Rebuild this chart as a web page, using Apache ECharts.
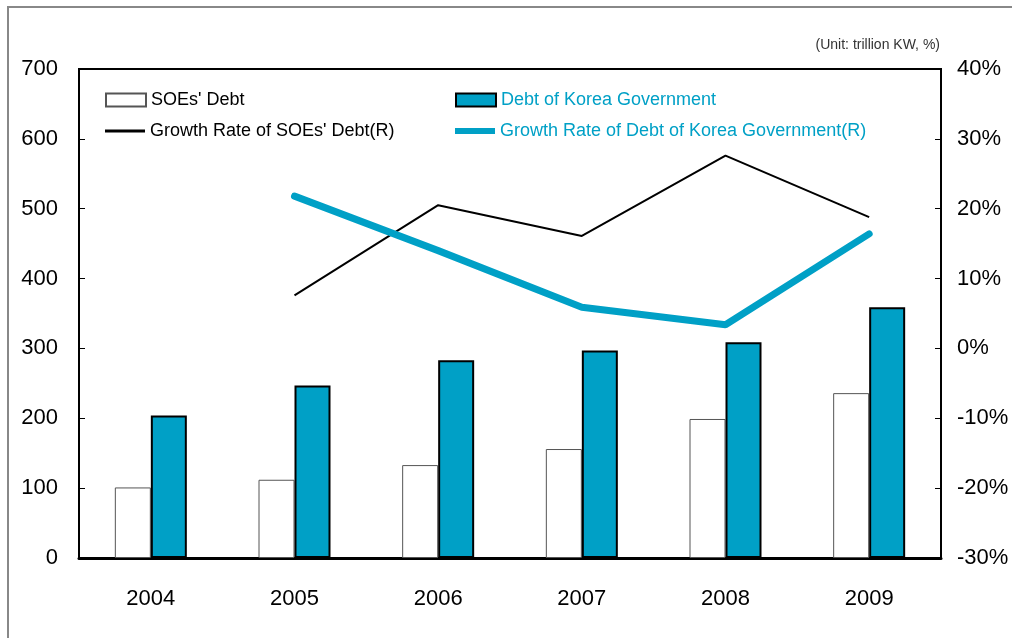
<!DOCTYPE html>
<html>
<head>
<meta charset="utf-8">
<script src="https://cdn.jsdelivr.net/npm/echarts@6/dist/echarts.min.js"></script>
<style>
  html, body { margin: 0; padding: 0; background: #fff; }
  #chart { width: 1012px; height: 638px; }
</style>
</head>
<body>
<div id="chart"></div>
<script>
const years = ['2004', '2005', '2006', '2007', '2008', '2009']
const soeDebt = [101, 112, 133, 156, 199, 236]
const govDebt = [204, 247, 283, 297, 309, 359]
const soeGrowth = [null, 7.6, 20.5, 16.1, 27.6, 18.8]
const govGrowth = [null, 21.8, 14.0, 5.9, 3.4, 16.4]

const teal = '#00a0c6'
const font = "'Liberation Sans', Arial, sans-serif"

const myChart = echarts.init(document.getElementById('chart'))

const legendBase = {
  orient: 'horizontal',
  itemWidth: 40,
  itemHeight: 13,
  itemGap: 12,
  icon: 'rect',
  selectedMode: false,
  textStyle: { fontSize: 18, fontFamily: font, color: '#000' },
}

const option = {
  animation: false,
  graphic: [
    {
      type: 'rect',
      shape: { x: 8, y: 7, width: 1100, height: 700 },
      style: { fill: 'none', stroke: '#888', lineWidth: 2 },
      silent: true,
    },
    {
      type: 'text',
      right: 72,
      top: 38,
      style: { text: '(Unit: trillion KW, %)', font: '14px ' + font, fill: '#333' },
    },
  ],
  grid: {
    left: 79,
    right: 71,
    top: 69,
    bottom: 80,
    show: true,
    borderColor: '#000',
    borderWidth: 2,
  },
  legend: [
    Object.assign({}, legendBase, { left: 100, top: 86, data: ["SOEs' Debt"] }),
    Object.assign({}, legendBase, {
      left: 450, top: 86,
      data: [{ name: 'Debt of Korea Government', textStyle: { color: teal } }],
    }),
    Object.assign({}, legendBase, {
      left: 100, top: 117, itemHeight: 3,
      data: ["Growth Rate of SOEs' Debt(R)"],
    }),
    Object.assign({}, legendBase, {
      left: 450, top: 117, itemHeight: 6,
      data: [{ name: 'Growth Rate of Debt of Korea Government(R)', textStyle: { color: teal } }],
    }),
  ],
  xAxis: {
    type: 'category',
    data: years,
    axisLine: { lineStyle: { color: '#000', width: 3 } },
    axisTick: { show: false },
    axisLabel: { fontSize: 22, fontFamily: font, color: '#000', margin: 30 },
  },
  yAxis: [
    {
      type: 'value',
      min: 0,
      max: 700,
      interval: 100,
      axisLine: { show: true, lineStyle: { color: '#000', width: 2 } },
      axisTick: { show: true, inside: true, length: 6, lineStyle: { color: '#000' } },
      splitLine: { show: false },
      axisLabel: { fontSize: 22, fontFamily: font, color: '#000', margin: 21 },
    },
    {
      type: 'value',
      min: -30,
      max: 40,
      interval: 10,
      axisLine: { show: true, lineStyle: { color: '#000', width: 2 } },
      axisTick: { show: true, inside: true, length: 6, lineStyle: { color: '#000' } },
      splitLine: { show: false },
      axisLabel: { fontSize: 22, fontFamily: font, color: '#000', margin: 16, formatter: '{value}%' },
    },
  ],
  series: [
    {
      name: "SOEs' Debt",
      type: 'bar',
      data: soeDebt,
      barWidth: 36,
      barGap: '0%',
      itemStyle: { color: '#fff', borderColor: '#555', borderWidth: 1 },
    },
    {
      name: 'Debt of Korea Government',
      type: 'bar',
      data: govDebt,
      barWidth: 36,
      barGap: '0%',
      itemStyle: { color: teal, borderColor: '#000', borderWidth: 2 },
    },
    {
      name: "Growth Rate of SOEs' Debt(R)",
      type: 'line',
      yAxisIndex: 1,
      data: soeGrowth,
      symbol: 'none',
      lineStyle: { color: '#000', width: 2 },
      itemStyle: { color: '#000' },
    },
    {
      name: 'Growth Rate of Debt of Korea Government(R)',
      type: 'line',
      yAxisIndex: 1,
      data: govGrowth,
      symbol: 'none',
      lineStyle: { color: teal, width: 7, cap: 'round' },
      itemStyle: { color: teal },
    },
  ],
}

myChart.setOption(option)
</script>
</body>
</html>
